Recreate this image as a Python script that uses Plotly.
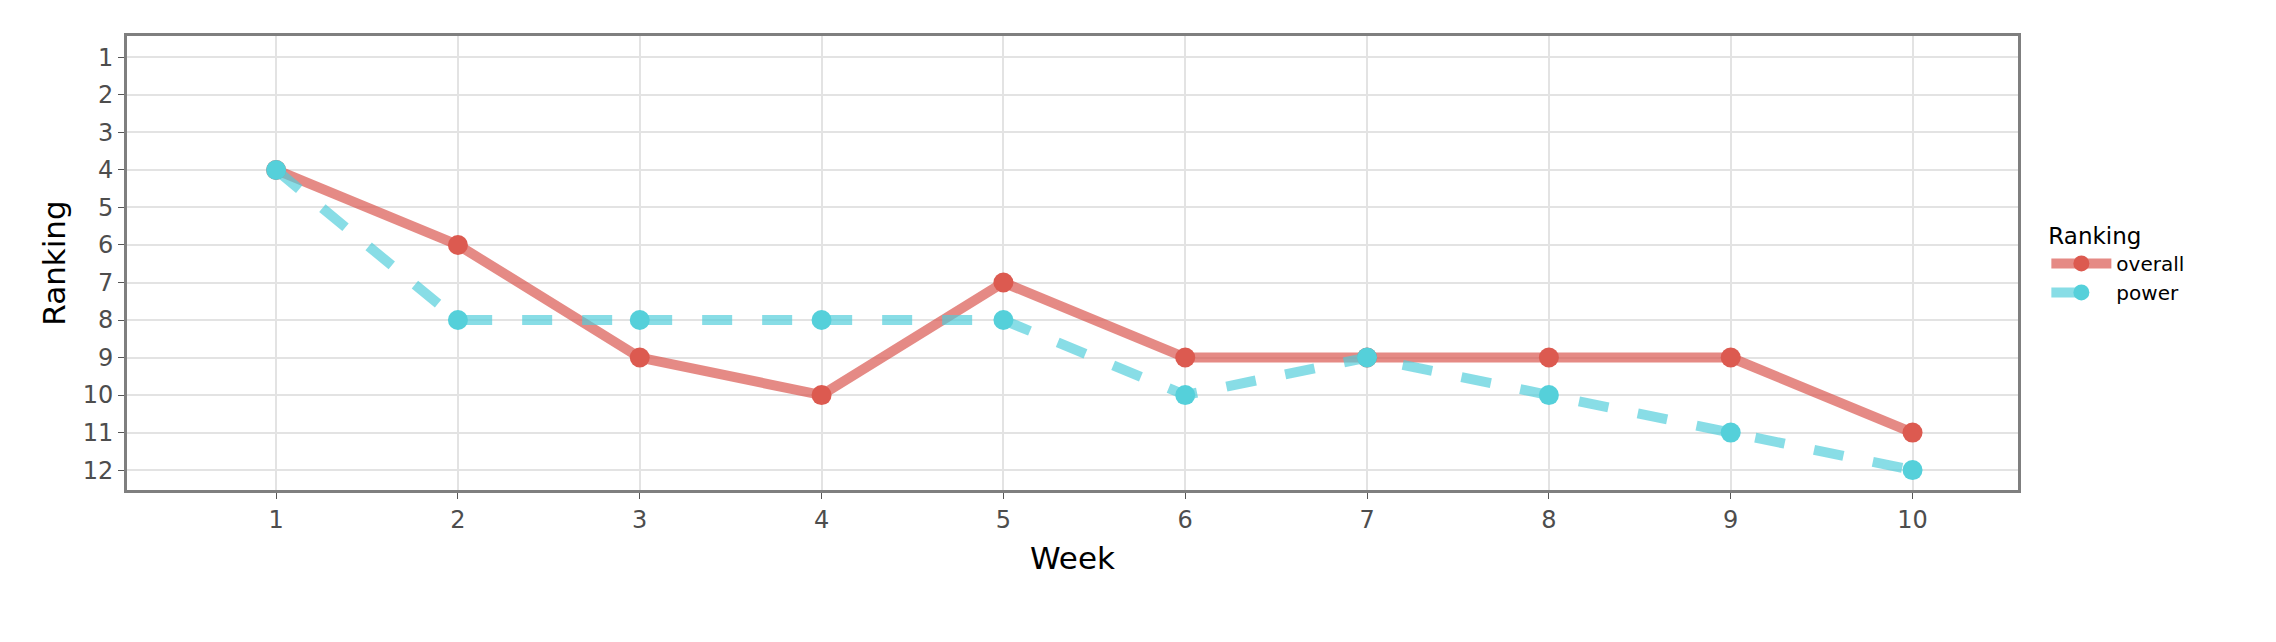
import plotly.graph_objects as go

weeks = [1, 2, 3, 4, 5, 6, 7, 8, 9, 10]
overall = [4, 6, 9, 10, 7, 9, 9, 9, 9, 11]
power = [4, 8, 8, 8, 8, 10, 9, 10, 11, 12]
y_ticks = list(range(1, 13))

fig = go.Figure()
fig.add_trace(go.Scatter(
    x=weeks, y=overall, name="overall", mode="lines+markers",
    line=dict(color="rgba(217,83,75,0.68)", width=10),
    marker=dict(color="#dc5a50", size=20),
))
fig.add_trace(go.Scatter(
    x=weeks, y=power, name="power", mode="lines+markers",
    line=dict(color="rgba(80,205,218,0.68)", width=10, dash="dash"),
    marker=dict(color="#55d0da", size=20),
))

axis_common = dict(
    showgrid=True, gridcolor="#e3e3e3", gridwidth=2,
    showline=True, linecolor="#7f7f7f", linewidth=3, mirror=True,
    ticks="outside", tickcolor="#555", ticklen=6,
    tickfont=dict(family="DejaVu Sans", size=24, color="#4d4d4d"),
    zeroline=False,
)
fig.update_xaxes(axis_common, range=[0.18, 10.58], tickvals=weeks,
                 title=dict(text="Week", font=dict(family="DejaVu Sans", size=31, color="black")))
fig.update_yaxes(axis_common, range=[12.53, 0.43], tickvals=y_ticks,
                 title=dict(text="Ranking", font=dict(family="DejaVu Sans", size=31, color="black"), standoff=8))

fig.update_layout(
    width=2276, height=642,
    plot_bgcolor="white", paper_bgcolor="white",
    margin=dict(l=119, r=266, t=28, b=160),
    legend=dict(
        title=dict(text="Ranking", font=dict(family="DejaVu Sans", size=23, color="black")),
        font=dict(family="DejaVu Sans", size=20, color="black"),
        x=1.015, y=0.5, yanchor="middle", xanchor="left",
        itemwidth=60, tracegroupgap=14,
    ),
)

fig.write_html("out.html")
